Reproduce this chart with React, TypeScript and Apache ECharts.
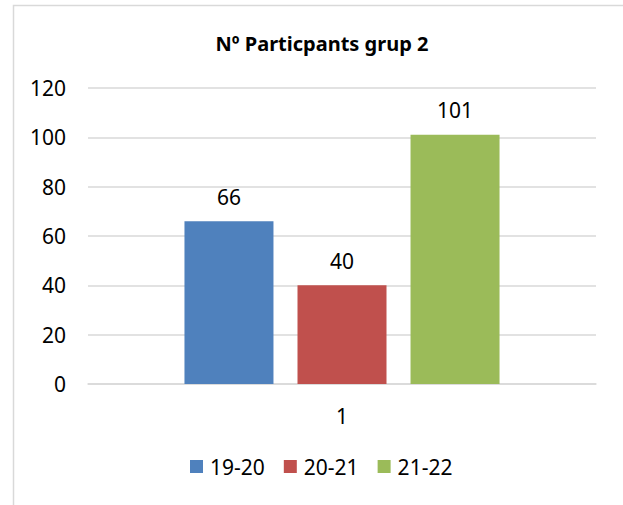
import React, { useEffect, useRef } from "react";
import * as echarts from "echarts";

const categories = ["1"];
const seriesNames = ["19-20", "20-21", "21-22"];
const values19_20 = [66];
const values20_21 = [40];
const values21_22 = [101];
const colors = ["#4f81bd", "#c0504d", "#9bbb59"];
const titleText = "Nº Particpants grup 2";

export default function App() {
  const ref = useRef<HTMLDivElement>(null);
  useEffect(() => {
    if (!ref.current) return;
    const chart = echarts.init(ref.current, undefined, { renderer: "svg" });
    const font = "'Noto Sans', 'Open Sans', sans-serif";
    const data = [values19_20, values20_21, values21_22];
    chart.setOption({
      animation: false,
      textStyle: { fontFamily: font },
      title: {
        text: titleText,
        left: 322,
        textAlign: "center",
        top: 33,
        padding: 0,
        textStyle: { fontSize: 20, fontWeight: "bold", color: "#000", fontFamily: font },
      },
      graphic: [
        {
          type: "rect",
          shape: { x: 13.5, y: 5.5, width: 700, height: 600 },
          style: { fill: "none", stroke: "#d9d9d9", lineWidth: 1.5 },
          silent: true,
        },
      ],
      legend: {
        data: seriesNames,
        left: 190,
        top: 456,
        padding: 0,
        itemWidth: 13,
        itemHeight: 13,
        itemGap: 19,
        icon: "rect",
        textStyle: { fontSize: 21, color: "#000", fontFamily: font, padding: [0, 0, 0, 2] },
      },
      grid: { left: 88, right: 27, top: 88, bottom: 121, containLabel: false },
      xAxis: {
        type: "category",
        data: categories,
        axisLine: { lineStyle: { color: "#d9d9d9", width: 1.5 } },
        axisTick: { show: false },
        axisLabel: { fontSize: 21, color: "#000", margin: 21 },
      },
      yAxis: {
        type: "value",
        min: 0,
        max: 120,
        interval: 20,
        axisLine: { show: false },
        axisTick: { show: false },
        axisLabel: { fontSize: 21, color: "#000", margin: 22 },
        splitLine: { lineStyle: { color: "#d9d9d9", width: 1.5 } },
      },
      series: seriesNames.map((name, i) => ({
        name,
        type: "bar",
        data: data[i],
        barWidth: 89,
        barGap: "27%",
        barCategoryGap: "38%",
        itemStyle: { color: colors[i] },
        label: {
          show: true,
          position: "top",
          distance: 14,
          fontSize: 21,
          color: "#000",
          fontFamily: font,
        },
      })),
    });
    return () => chart.dispose();
  }, []);
  return (
    <div
      ref={ref}
      style={{ position: "absolute", left: 0, top: 0, width: 623, height: 505, background: "#fff" }}
    />
  );
}
